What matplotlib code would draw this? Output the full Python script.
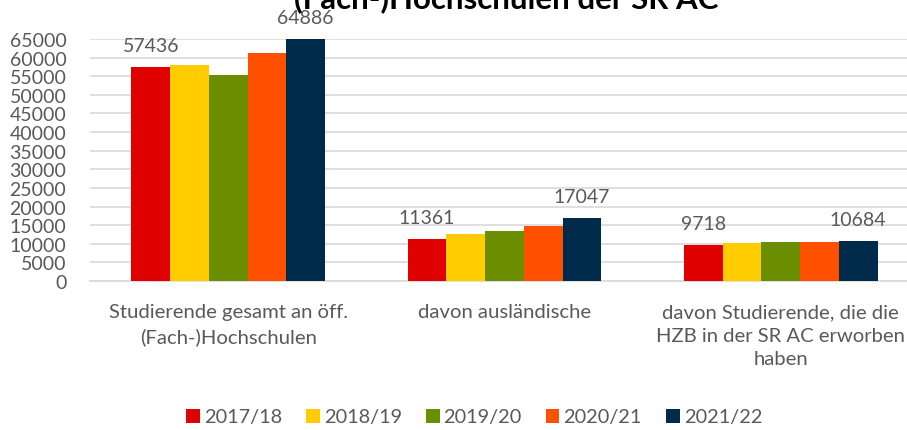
import numpy as np
import matplotlib.pyplot as plt

categories = ["Studierende gesamt an öff.\n(Fach-)Hochschulen",
              "davon ausländische",
              "davon Studierende, die die\nHZB in der SR AC erworben\nhaben"]
years = ["2017/18", "2018/19", "2019/20", "2020/21", "2021/22"]
values = {
    "2017/18": [57436, 11361, 9718],
    "2018/19": [58100, 12550, 10100],
    "2019/20": [55250, 13450, 10380],
    "2020/21": [61300, 14700, 10470],
    "2021/22": [64886, 17047, 10684],
}
colors = ["#e10000", "#ffcc00", "#6a8e00", "#ff5000", "#002a4a"]
labeled = ["2017/18", "2021/22"]

plt.rcParams['font.family'] = ['Lato', 'DejaVu Sans']
grey = "#595959"

fig = plt.figure(figsize=(9.07, 4.31), dpi=100)
ax = fig.add_axes([90 / 907, 1 - 282 / 431, 829 / 907, 242 / 431])

x = np.arange(len(categories))
w = 0.14
for i, yr in enumerate(years):
    pos = x + (i - 2) * w
    ax.bar(pos, values[yr], width=w, color=colors[i], label=yr, zorder=3)
    if yr in labeled:
        for px, v in zip(pos, values[yr]):
            ax.annotate(str(v), (px, v), xytext=(0, 16), textcoords='offset pixels',
                        ha='center', va='baseline', fontsize=14, color=grey)

ax.set_xlim(-0.5, 2.5)
ax.set_ylim(0, 65000)
ax.set_yticks(np.arange(0, 65001, 5000))
ax.set_xticks(x)
ax.set_xticklabels(categories, fontsize=14.6, color=grey, linespacing=1.45)
ax.tick_params(axis='y', labelsize=14, labelcolor=grey, length=0, pad=17)
ax.tick_params(axis='x', length=0, pad=16)
ax.grid(axis='y', color='#d9d9d9', linewidth=1.2, zorder=0)
for s in ['top', 'right', 'left']:
    ax.spines[s].set_visible(False)
ax.spines['bottom'].set_color('#d9d9d9')
ax.spines['bottom'].set_linewidth(1.2)

fig.text(506 / 907, 1 - 8 / 431, "(Fach-)Hochschulen der SR AC", ha='center', va='baseline',
         fontsize=22.5, fontweight='bold', color='black')

fig.legend(loc='center', bbox_to_anchor=(474 / 907, 1 - 418 / 431), ncol=5, frameon=False,
           fontsize=14.3, labelcolor=grey, handlelength=0.7, handleheight=0.7, handletextpad=0.2,
           columnspacing=1.2)

fig.savefig("out.png", dpi=100)
